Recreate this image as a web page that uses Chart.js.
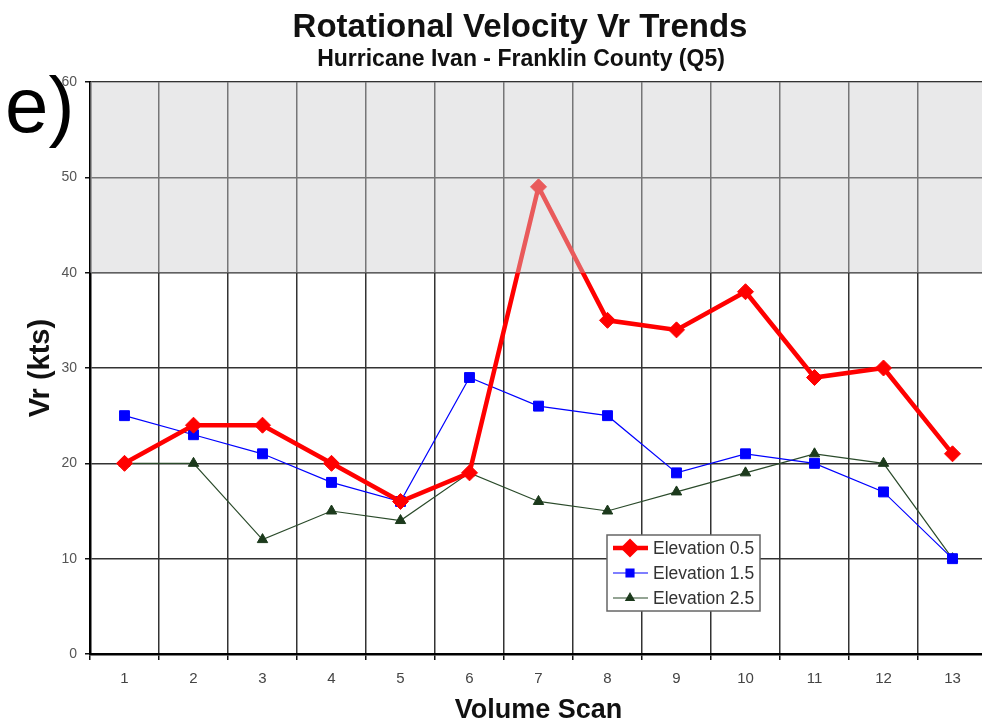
<!DOCTYPE html>
<html>
<head>
<meta charset="utf-8">
<script src="https://cdn.jsdelivr.net/npm/chart.js@4/dist/chart.umd.min.js"></script>
<style>
  html, body { margin: 0; padding: 0; background: #fff; overflow: hidden; }
  #wrap { width: 996px; height: 727px; position: relative; }
</style>
</head>
<body>
<div id="wrap"><canvas id="vr-chart"></canvas></div>
<script>
const scans = ['1', '2', '3', '4', '5', '6', '7', '8', '9', '10', '11', '12', '13'];
const elev05 = [20, 24, 24, 20, 16, 19, 49, 35, 34, 38, 29, 30, 21];
const elev15 = [25, 23, 21, 18, 16, 29, 26, 25, 19, 21, 20, 17, 10];
const elev25 = [20, 20, 12, 15, 14, 19, 16, 15, 17, 19, 21, 20, 10];
const seriesNames = ['Elevation 0.5', 'Elevation 1.5', 'Elevation 2.5'];
const yMin = 0;
const yMax = 60;
const yStep = 10;
const shadedBand = [40, 60];

const FONT = '"Liberation Sans", Arial, sans-serif';

// grey band above 40 kts, painted over the lines so they look faded
const bandPlugin = {
  id: 'band',
  afterDatasetsDraw(chart) {
    const { ctx, chartArea, scales } = chart;
    const top = scales.y.getPixelForValue(shadedBand[1]);
    const bottom = scales.y.getPixelForValue(shadedBand[0]);
    ctx.save();
    ctx.fillStyle = 'rgba(205,205,208,0.44)';
    ctx.fillRect(chartArea.left, top, chartArea.right - chartArea.left, bottom - top);
    ctx.restore();
  }
};

// titles, panel letter and the boxed legend inside the plot
const textPlugin = {
  id: 'texts',
  afterDraw(chart) {
    const { ctx } = chart;
    ctx.save();
    ctx.fillStyle = '#111';
    ctx.textAlign = 'center';
    ctx.textBaseline = 'alphabetic';
    ctx.font = 'bold 33px ' + FONT;
    ctx.fillText('Rotational Velocity Vr Trends', 520, 37);
    ctx.font = 'bold 23px ' + FONT;
    ctx.fillText('Hurricane Ivan - Franklin County (Q5)', 521, 66);

    ctx.textAlign = 'left';
    ctx.fillStyle = '#000';
    ctx.font = '78px ' + FONT;
    ctx.fillText('e)', 5, 132);

    // legend
    const bx = 607, by = 535, bw = 153, bh = 76;
    ctx.fillStyle = '#fff';
    ctx.fillRect(bx, by, bw, bh);
    ctx.strokeStyle = '#666';
    ctx.lineWidth = 1.5;
    ctx.strokeRect(bx, by, bw, bh);
    ctx.font = '17.5px ' + FONT;
    ctx.textBaseline = 'middle';
    chart.data.datasets.forEach((ds, i) => {
      const y = by + 13 + i * 25;
      ctx.strokeStyle = ds.borderColor;
      ctx.lineWidth = ds.borderWidth;
      ctx.beginPath();
      ctx.moveTo(bx + 6, y);
      ctx.lineTo(bx + 41, y);
      ctx.stroke();
      ctx.fillStyle = ds.pointBackgroundColor;
      ctx.strokeStyle = ds.pointBorderColor;
      Chart.helpers.drawPoint(ctx, {
        pointStyle: ds.pointStyle,
        radius: ds.pointRadius * 0.8,
        rotation: 0,
        borderWidth: 1
      }, bx + 23, y);
      ctx.fillStyle = '#333';
      ctx.fillText(seriesNames[i], bx + 46, y + 1);
    });
    ctx.restore();
  }
};

const ctx = document.getElementById('vr-chart').getContext('2d');
new Chart(ctx, {
  type: 'line',
  data: {
    labels: scans,
    datasets: [
      {
        label: seriesNames[0],
        data: elev05,
        borderColor: '#ff0000',
        borderWidth: 4.5,
        pointStyle: 'rectRot',
        pointRadius: 8,
        pointBackgroundColor: '#ff0000',
        pointBorderColor: '#ff0000',
        pointBorderWidth: 1,
        tension: 0
      },
      {
        label: seriesNames[1],
        data: elev15,
        borderColor: '#0000ff',
        borderWidth: 1.2,
        pointStyle: 'rect',
        pointRadius: 7,
        pointBackgroundColor: '#0000ff',
        pointBorderColor: '#0000ff',
        pointBorderWidth: 1,
        tension: 0
      },
      {
        label: seriesNames[2],
        data: elev25,
        borderColor: '#2a4a2a',
        borderWidth: 1.2,
        pointStyle: 'triangle',
        pointRadius: 6,
        pointBackgroundColor: '#1c3a1c',
        pointBorderColor: '#1c3a1c',
        pointBorderWidth: 1,
        tension: 0
      }
    ]
  },
  options: {
    responsive: true,
    maintainAspectRatio: false,
    animation: false,
    layout: { padding: { top: 82, right: 0, bottom: 0, left: 0 } },
    plugins: {
      legend: { display: false },
      title: { display: false },
      tooltip: { enabled: false }
    },
    scales: {
      x: {
        offset: true,
        grid: {
          offset: true,
          color: '#333',
          lineWidth: 1.5,
          tickLength: 6,
          tickColor: '#111'
        },
        border: { color: '#000', width: 2.5 },
        ticks: {
          color: '#444',
          font: { family: FONT, size: 15 },
          padding: 10,
          maxRotation: 0
        },
        title: {
          display: true,
          text: 'Volume Scan',
          color: '#111',
          font: { family: FONT, size: 27, weight: 'bold', lineHeight: 1.2 },
          padding: 0
        },
        afterFit(scale) { scale.height = 73; }
      },
      y: {
        min: yMin,
        max: yMax,
        grid: {
          color: '#333',
          lineWidth: 1.5,
          tickLength: 5,
          tickColor: '#111'
        },
        border: { color: '#000', width: 2.5 },
        ticks: {
          stepSize: yStep,
          color: '#555',
          font: { family: FONT, size: 14 },
          padding: 8
        },
        title: {
          display: true,
          text: 'Vr (kts)',
          color: '#111',
          font: { family: FONT, size: 29, weight: 'bold', lineHeight: 1.2 },
          padding: { top: 24, bottom: 0 }
        },
        afterFit(scale) { scale.width = 90; }
      }
    }
  },
  plugins: [bandPlugin, textPlugin]
});
</script>
</body>
</html>
